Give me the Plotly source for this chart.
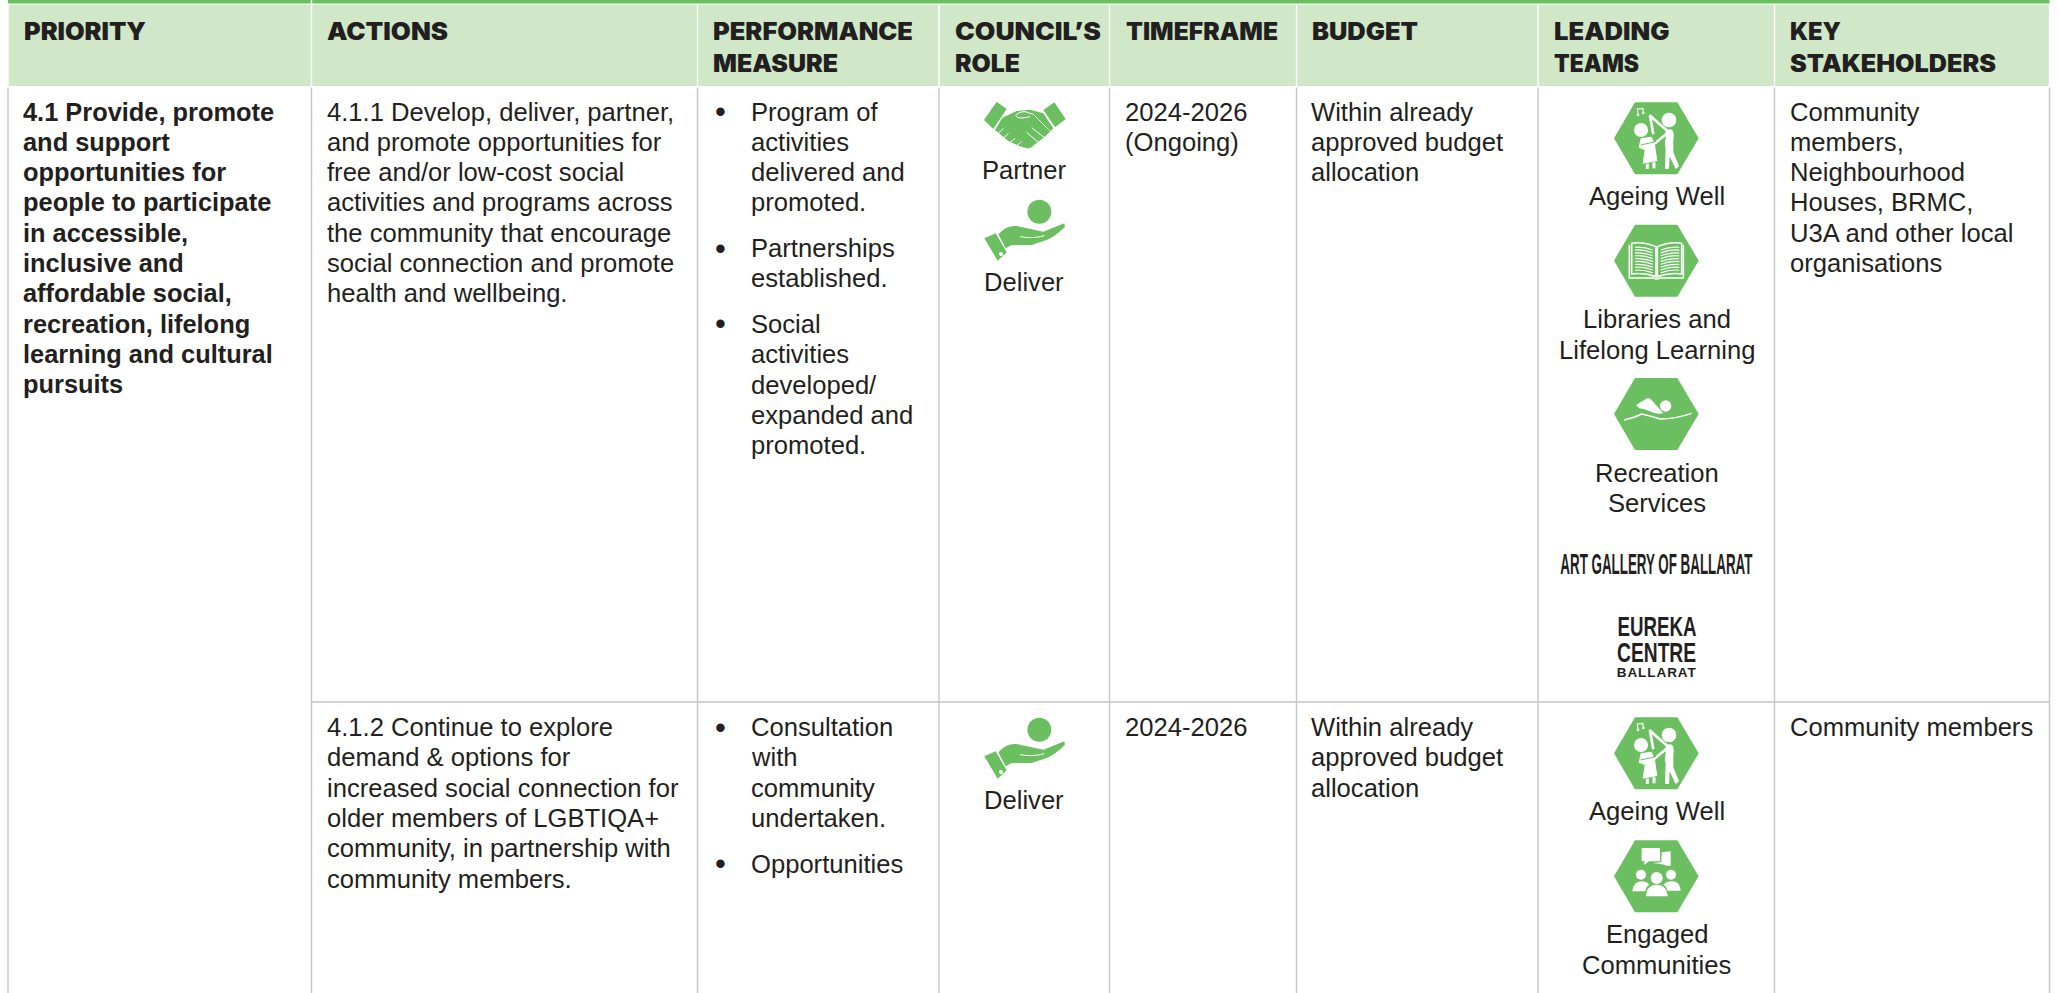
import re
import plotly.graph_objects as go

# ---------- content ----------
HEADERS = [["PRIORITY"], ["ACTIONS"], ["PERFORMANCE", "MEASURE"], ["COUNCIL’S", "ROLE"],
           ["TIMEFRAME"], ["BUDGET"], ["LEADING", "TEAMS"], ["KEY", "STAKEHOLDERS"]]
PRIORITY = ["4.1 Provide, promote", "and support", "opportunities for", "people to participate",
            "in accessible,", "inclusive and", "affordable social,", "recreation, lifelong",
            "learning and cultural", "pursuits"]
ACTION_1 = ["4.1.1 Develop, deliver, partner,", "and promote opportunities for",
            "free and/or low-cost social", "activities and programs across",
            "the community that encourage", "social connection and promote",
            "health and wellbeing."]
ACTION_2 = ["4.1.2 Continue to explore", "demand & options for",
            "increased social connection for", "older members of LGBTIQA+",
            "community, in partnership with", "community members."]
MEASURES_1 = [["Program of", "activities", "delivered and", "promoted."],
              ["Partnerships", "established."],
              ["Social", "activities", "developed/", "expanded and", "promoted."]]
MEASURES_2 = [["Consultation", "with", "community", "undertaken."], ["Opportunities"]]
TIMEFRAME_1 = ["2024-2026", "(Ongoing)"]
TIMEFRAME_2 = ["2024-2026"]
BUDGET_TEXT = ["Within already", "approved budget", "allocation"]
STAKE_1 = ["Community", "members,", "Neighbourhood", "Houses, BRMC,", "U3A and other local", "organisations"]
STAKE_2 = ["Community members"]

# ---------- layout ----------
W, H = 2058, 993
EDGES = [8, 311.5, 697.5, 939, 1109.5, 1296.5, 1538, 1774.5, 2049.5]
HEAD_X = [22.5, 326, 712, 954, 1124.5, 1311, 1552.5, 1789]
TEXT_X = [22, 325.5, 712, 954, 1123.5, 1310, 1553, 1788.5]
INK = "#231F20"
GREEN = "#6BBF61"
HEAD = "#D0E8C8"
RULE = "#C6C6C6"
BODY = "Liberation Sans"
SIZE = 25.6
PITCH = 30.3
ROW1_Y = 111.5
ROW2_Y = 727
ROW_LINE = 702
ROLE_X = 1023.5
TEAM_X = 1656.5

shapes, notes = [], []


def rect(x0, y0, x1, y1, color):
    shapes.append(dict(type="rect", x0=x0, y0=y0, x1=x1, y1=y1, fillcolor=color, line_width=0, layer="below"))


def rule(x0, y0, x1, y1):
    shapes.append(dict(type="line", x0=x0, y0=y0, x1=x1, y1=y1, line=dict(color=RULE, width=1.4), layer="below"))


def text(x, y, s, size=SIZE, family=BODY, anchor="left", weight=400, color=INK):
    notes.append(dict(x=x, y=y, text=s, showarrow=False, xanchor=anchor, yanchor="middle", borderpad=0, align=anchor,
                      font=dict(size=size, family=family, color=color, weight=weight)))


def lines(x, y, rows, **kw):
    for i, s in enumerate(rows):
        text(x, y + i * PITCH, s, **kw)


def tf(path, ox, oy, k=1 / 3):
    out, idx = [], 0
    for tok in re.findall(r"[A-Za-z]|-?[\d.]+", path):
        if tok.isalpha():
            out.append(tok)
        else:
            out.append(f"{ox + float(tok) * k:.2f}" if idx % 2 == 0 else f"{oy + float(tok) * k:.2f}")
            idx += 1
    return " ".join(out)


def fill(path, ox, oy, color="white"):
    shapes.append(dict(type="path", path=tf(path, ox, oy), fillcolor=color, line_width=0))


def stroke(path, ox, oy, width=3, color="white"):
    shapes.append(dict(type="path", path=tf(path, ox, oy), line=dict(color=color, width=width), fillcolor="rgba(0,0,0,0)"))


def dot(cx, cy, r, ox, oy, color="white"):
    shapes.append(dict(type="circle", x0=ox + (cx - r) / 3, x1=ox + (cx + r) / 3, y0=oy + (cy - r) / 3,
                       y1=oy + (cy + r) / 3, fillcolor=color, line_width=0))


HEX = "M42 130 L105 22 L232 22 L296 130 L232 238 L105 238 Z"


def ageing(ox, oy):
    fill(HEX, ox, oy, GREEN)
    dot(207, 75, 22, ox, oy)
    fill("M197 108 Q205 100 216 104 Q224 112 220 135 L220 172 L237 214 L227 222 L209 184 L207 222 L195 222 L197 160 Q192 150 197 130 Z", ox, oy)
    stroke("M205 112 L165 145 L130 148", ox, oy, 2.6)
    stroke("M203 108 Q175 85 148 60", ox, oy, 2.6)
    dot(123, 105, 21, ox, oy)
    stroke("M150 62 L160 118", ox, oy, 2.6)
    fill("M122 130 L155 125 L165 150 L172 198 L128 206 L134 165 L116 158 Z", ox, oy)
    stroke("M122 150 L168 140", ox, oy, 1, GREEN)
    stroke("M142 206 L142 222", ox, oy, 3)
    stroke("M162 202 L162 220", ox, oy, 3)
    stroke("M114 58 L112 42 L128 40 L130 52", ox, oy, 1.2)
    dot(114, 60, 4, ox, oy)
    dot(130, 54, 4, ox, oy)


def book(ox, oy):
    fill(HEX, ox, oy, GREEN)
    stroke("M88 82 L88 182 L160 182 Q170 188 180 182 L250 182 L250 82", ox, oy, 1.6)
    stroke("M95 78 Q130 72 168 88 L168 178 Q130 165 95 170 Z", ox, oy, 1.6)
    stroke("M172 88 Q210 72 245 78 L245 170 Q210 165 172 178 Z", ox, oy, 1.6)
    for i in range(9):
        y = 90 + i * 8.6
        stroke(f"M105 {y} Q130 {y - 3} 158 {y + 8}", ox, oy, 1.2)
        stroke(f"M182 {y + 8} Q210 {y - 3} 238 {y}", ox, oy, 1.2)


def swim(ox, oy):
    fill(HEX, ox, oy, GREEN)
    dot(197, 106, 17, ox, oy)
    fill("M108 103 L142 82 L152 85 L190 128 Q165 132 150 122 L130 115 L118 113 Z", ox, oy)
    stroke("M72 148 Q105 140 125 130 Q150 135 180 145 Q225 145 275 128", ox, oy, 1.5)


def engaged(ox, oy):
    fill(HEX, ox, oy, GREEN)
    fill("M185 58 L212 55 L212 98 L202 98 Q175 90 158 90 L184 88 Z", ox, oy)
    fill("M125 45 L180 45 L180 85 L148 85 L132 95 L134 85 L125 85 Z", ox, oy)
    dot(123, 125, 15, ox, oy)
    dot(213, 125, 15, ox, oy)
    fill("M97 175 Q100 145 125 145 Q140 145 148 155 Q138 160 136 175 Z", ox, oy)
    fill("M242 173 Q240 145 215 145 Q200 145 190 155 Q200 160 202 173 Z", ox, oy)
    dot(170, 135, 18, ox, oy)
    fill("M138 190 Q140 155 170 155 Q200 155 203 190 Z", ox, oy)


def handshake(ox, oy):
    fill("M27 75 L65 20 L95 42 L55 102 Z", ox, oy, GREEN)
    fill("M205 45 L238 22 L272 72 L240 97 Z", ox, oy, GREEN)
    fill("M82 68 L125 48 L165 44 L205 55 L235 100 L213 122 L165 160 L155 160 L130 152 L100 138 L60 105 Z", ox, oy, GREEN)
    stroke("M122 62 Q130 50 150 50 L175 58 L225 108", ox, oy, 1)
    stroke("M122 62 Q130 72 150 68 L165 65", ox, oy, 1)
    stroke("M170 98 L208 128", ox, oy, 1)
    stroke("M155 112 L190 142", ox, oy, 1)
    for a in ("M85 100 L70 115", "M100 115 L85 130", "M120 130 L102 145", "M140 140 L125 152"):
        stroke(a, ox, oy, 1)


def deliver(ox, oy):
    dot(193, 50, 36, ox, oy, GREEN)
    fill("M28 130 L62 115 L95 172 L68 197 Z", ox, oy, GREEN)
    dot(78, 177, 6, ox, oy)
    fill("M70 118 Q95 90 125 93 L205 110 L268 85 L270 95 Q240 125 215 135 L170 150 L110 150 L92 160 Z", ox, oy, GREEN)
    stroke("M135 125 Q175 132 208 122", ox, oy, 1)


# header band
for i in range(8):
    rect(EDGES[i] + 0.7, 4.5, EDGES[i + 1] - 0.7, 86, HEAD)
rect(EDGES[0], 0, EDGES[1] - 0.7, 3.4, GREEN)
rect(EDGES[1] + 0.7, 0, EDGES[8], 3.4, GREEN)
for x, rows in zip(HEAD_X, HEADERS):
    for i, s in enumerate(rows):
        text(x, 31.2 + i * 32, s, size=24, family="Inter", weight=900)

# grid
for x in EDGES:
    rule(x, 87.5, x, H)
rule(EDGES[1], ROW_LINE, EDGES[8], ROW_LINE)

# row 1 and 2 body text
lines(TEXT_X[0], ROW1_Y, PRIORITY, weight=700, size=25.4)
lines(TEXT_X[1], ROW1_Y, ACTION_1)
lines(TEXT_X[1], ROW2_Y, ACTION_2)


def measures(groups, y):
    for g in groups:
        text(TEXT_X[2] + 1.5, y, "•", size=31)
        lines(750, y, g)
        y += len(g) * PITCH + 15.3


measures(MEASURES_1, ROW1_Y)
measures(MEASURES_2, ROW2_Y)
lines(TEXT_X[4], ROW1_Y, TIMEFRAME_1)
lines(TEXT_X[4], ROW2_Y, TIMEFRAME_2)
lines(TEXT_X[5], ROW1_Y, BUDGET_TEXT)
lines(TEXT_X[5], ROW2_Y, BUDGET_TEXT)
lines(TEXT_X[7], ROW1_Y, STAKE_1)
lines(TEXT_X[7], ROW2_Y, STAKE_2)

# council role
handshake(975, 95)
text(ROLE_X, 170, "Partner", anchor="center")
deliver(975, 195)
text(ROLE_X, 282.2, "Deliver", anchor="center")
deliver(975, 713)
text(ROLE_X, 800.2, "Deliver", anchor="center")

# leading teams
ageing(1600, 95)
text(TEAM_X, 196.4, "Ageing Well", anchor="center")
book(1600, 217.3)
text(TEAM_X, 319.3, "Libraries and", anchor="center")
text(TEAM_X, 349.6, "Lifelong Learning", anchor="center")
swim(1600, 370.7)
text(TEAM_X, 472.7, "Recreation", anchor="center")
text(TEAM_X, 503, "Services", anchor="center")
text(TEAM_X, 564, "ART GALLERY OF BALLARAT", size=29, anchor="center", weight=700)
text(TEAM_X, 626, "EUREKA", size=28, anchor="center", weight=700)
text(TEAM_X, 652, "CENTRE", size=28, anchor="center", weight=700)
text(TEAM_X, 672.7, "BALLARAT", size=13.5, anchor="center", weight=700)
ageing(1600, 710)
text(TEAM_X, 811.4, "Ageing Well", anchor="center")
engaged(1600, 833)
text(TEAM_X, 934, "Engaged", anchor="center")
text(TEAM_X, 965, "Communities", anchor="center")

fig = go.Figure(go.Scatter(x=[], y=[]))
fig.update_layout(width=W, height=H, margin=dict(l=0, r=0, t=0, b=0), paper_bgcolor="white", plot_bgcolor="white",
                  showlegend=False, shapes=shapes, annotations=notes,
                  xaxis=dict(range=[0, W], visible=False, fixedrange=True),
                  yaxis=dict(range=[H, 0], visible=False, fixedrange=True))
FIT = """
document.body.style.margin='0';document.body.style.overflow='hidden';
function fitLabels(){
  var g='spacingAndGlyphs';
  var fit={'ART GALLERY OF BALLARAT':[192,g],'EUREKA':[79,g],'CENTRE':[79,g],'BALLARAT':[79,'spacing'],
           'PRIORITY':[122,g],'ACTIONS':[121,g],'PERFORMANCE':[200,g],'MEASURE':[125,g],
           'COUNCIL\\u2019S':[146,g],'ROLE':[65,g],'TIMEFRAME':[152,g],'BUDGET':[106,g],
           'LEADING':[115.5,g],'TEAMS':[85,g],'KEY':[51,g],'STAKEHOLDERS':[206,g]};
  document.querySelectorAll('.annotation-text').forEach(function(t){
    var f=fit[t.textContent];
    if(f){t.setAttribute('textLength',f[0]);t.setAttribute('lengthAdjust',f[1]);}
  });
}
fitLabels();setTimeout(fitLabels,30);setTimeout(fitLabels,200);
"""
fig.write_html("out.html", config=dict(displayModeBar=False), post_script=FIT)
